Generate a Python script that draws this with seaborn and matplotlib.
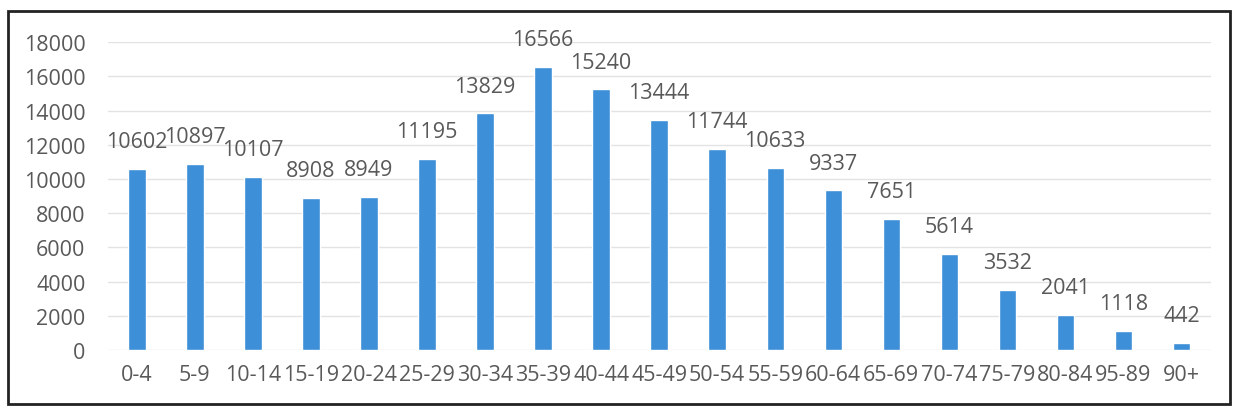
import matplotlib
matplotlib.use("Agg")
import matplotlib.pyplot as plt
import seaborn as sns
import pandas as pd
from matplotlib.patches import Rectangle

categories = ["0-4", "5-9", "10-14", "15-19", "20-24", "25-29", "30-34", "35-39",
              "40-44", "45-49", "50-54", "55-59", "60-64", "65-69", "70-74",
              "75-79", "80-84", "95-89", "90+"]
values = [10602, 10897, 10107, 8908, 8949, 11195, 13829, 16566, 15240, 13444,
          11744, 10633, 9337, 7651, 5614, 3532, 2041, 1118, 442]
yticks = [0, 2000, 4000, 6000, 8000, 10000, 12000, 14000, 16000, 18000]

sns.set_theme(style="white")
plt.rcParams['font.family'] = ['Open Sans', 'DejaVu Sans']

df = pd.DataFrame({"age": categories, "count": values})

fig = plt.figure(figsize=(12.39, 4.14), dpi=100)
ax = fig.add_axes([0.087, 0.152, 0.890, 0.744])

sns.barplot(data=df, x="age", y="count", color="#3D8FD8", saturation=1,
            width=0.3, ax=ax, zorder=3)

text_color = "#595959"
fs = 15.5
for c in ax.containers:
    ax.bar_label(c, labels=[str(v) for v in values], padding=12,
                 fontsize=fs, color=text_color)

ax.set_ylim(0, 18000)
ax.set_xlim(-0.5, len(categories) - 0.5)
ax.set_yticks(yticks)
ax.set_yticklabels([str(t) for t in yticks])
ax.grid(axis="y", color="#E3E3E3", linewidth=1, zorder=0)
ax.set_axisbelow(True)
for s in ax.spines.values():
    s.set_visible(False)
ax.tick_params(axis="both", length=0, labelsize=fs, colors=text_color)
ax.tick_params(axis="x", pad=10)
ax.tick_params(axis="y", pad=16)
ax.set_xlabel("")
ax.set_ylabel("")

fig.patches.append(Rectangle((8 / 1239, 1 - 405 / 414), 1222 / 1239, 393 / 414,
                             transform=fig.transFigure, fill=False,
                             edgecolor="#222222", linewidth=2))

fig.savefig("out.png", dpi=100)
